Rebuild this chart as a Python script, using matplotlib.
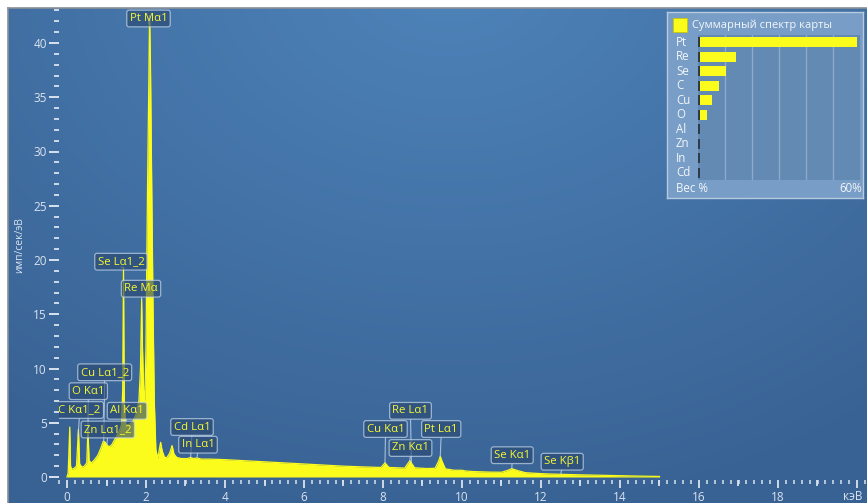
import numpy as np
import matplotlib
matplotlib.use('Agg')
import matplotlib.pyplot as plt
from matplotlib.patches import Rectangle
from matplotlib.ticker import MultipleLocator, FuncFormatter
from matplotlib.transforms import blended_transform_factory

plt.rcParams['font.family'] = ['Open Sans', 'DejaVu Sans']

# спектр: энергия (кэВ) и интенсивность (имп/сек/эВ)
spec_kev = [0.00, 0.03, 0.05, 0.07, 0.09, 0.12, 0.18, 0.24, 0.27, 0.29, 0.32, 0.38, 0.44,
            0.50, 0.53, 0.56, 0.62, 0.70, 0.78, 0.85, 0.92, 0.97, 1.02, 1.08, 1.14, 1.20,
            1.26, 1.32, 1.38, 1.41, 1.43, 1.45, 1.48, 1.53, 1.60, 1.68, 1.75, 1.82, 1.86,
            1.89, 1.91, 1.94, 1.97, 2.00, 2.02, 2.04, 2.07, 2.09, 2.11, 2.13, 2.15, 2.18,
            2.21, 2.25, 2.30, 2.34, 2.37, 2.41, 2.47, 2.53, 2.60, 2.66, 2.71, 2.78, 2.90,
            3.05, 3.13, 3.20, 3.29, 3.40, 3.60, 4.0, 4.5, 5.0, 5.5, 6.0, 6.5, 7.0, 7.5,
            7.95, 8.05, 8.15, 8.55, 8.68, 8.80, 9.1, 9.32, 9.40, 9.45, 9.50, 9.58, 9.8,
            10.0, 10.1, 10.3, 10.7, 11.0, 11.15, 11.26, 11.40, 11.6, 11.9, 12.2, 12.5,
            13.0, 13.5, 14.0, 14.5, 15.0]
spec_cps = [0.0, 0.4, 2.5, 4.6, 1.0, 0.7, 0.8, 1.0, 3.0, 4.4, 1.2, 0.9, 1.0,
            1.3, 4.4, 1.5, 1.3, 1.6, 2.0, 2.6, 3.3, 3.2, 2.9, 2.8, 3.0, 3.4,
            3.8, 4.2, 4.8, 8.0, 19.3, 7.0, 4.9, 4.8, 4.9, 5.2, 5.8, 7.0, 10.0,
            16.4, 12.0, 8.0, 7.0, 12.0, 20.0, 27.0, 36.0, 42.5, 39.0, 32.0, 25.0, 15.0,
            7.0, 2.5, 1.7, 2.6, 3.2, 2.4, 1.8, 1.8, 2.2, 2.9, 2.1, 1.8, 1.7,
            1.7, 1.8, 1.7, 1.75, 1.65, 1.65, 1.6, 1.5, 1.4, 1.3, 1.2, 1.1, 1.0, 0.93,
            0.88, 1.3, 0.88, 0.82, 1.5, 0.85, 0.78, 0.8, 1.4, 1.9, 1.4, 0.75, 0.62,
            0.62, 0.55, 0.5, 0.45, 0.44, 0.6, 0.77, 0.6, 0.4, 0.33, 0.28, 0.25,
            0.2, 0.16, 0.12, 0.08, 0.05]

# подписи пиков
peak_names = ['Pt Mα1', 'Se Lα1_2', 'Re Mα', 'Cu Lα1_2', 'O Kα1', 'C Kα1_2', 'Al Kα1',
              'Zn Lα1_2', 'Cd Lα1', 'In Lα1', 'Cu Kα1', 'Re Lα1', 'Zn Kα1', 'Pt Lα1',
              'Se Kα1', 'Se Kβ1']
peak_kev = [2.09, 1.43, 1.89, 0.93, 0.53, 0.28, 1.49, 1.01, 3.13, 3.29, 8.05, 8.72,
            8.68, 9.45, 11.26, 12.50]

# суммарный спектр карты, вес %
elements = ['Pt', 'Re', 'Se', 'C', 'Cu', 'O', 'Al', 'Zn', 'In', 'Cd']
weights = [58.9, 13.9, 10.5, 7.8, 5.2, 3.5, 0.4, 0.4, 0.3, 0.3]

# положения плашек с подписями (пиксели картинки, центр)
label_px = [(148.5, 18.5), (121, 261.7), (141, 288.7), (104.7, 372.3), (88.3, 391.2),
            (79.5, 410), (127, 410.8), (107.8, 429.5), (192, 427), (198, 444.7),
            (385.5, 429), (410.5, 410.8), (410.5, 448), (441.2, 429), (512.2, 455.2),
            (562.2, 461.7)]

W, H = 867, 503
YEL = '#fbfb1c'
TICK = '#d9e3ee'


def fx(px):
    return px / W


def fy(py):
    return 1 - py / H


fig = plt.figure(figsize=(W / 100, H / 100), dpi=100, facecolor='white')

# фон с радиальным градиентом
bg = fig.add_axes([fx(8), 0, 1 - fx(8), fy(8)])
yy, xx = np.mgrid[0:495:3, 0:859:3]
d = np.hypot(xx - 440, (yy + 40) * 1.3)
t = np.clip(d / 720, 0, 1)[..., None]
c_in = np.array([78, 132, 186]) / 255
c_out = np.array([57, 98, 148]) / 255
bg.imshow(c_in + (c_out - c_in) * t, aspect='auto', extent=(0, 1, 0, 1),
          interpolation='bilinear')
bg.set_xlim(0, 1)
bg.set_ylim(0, 1)
bg.set_xticks([])
bg.set_yticks([])
for side, s in bg.spines.items():
    if side in ('left', 'top'):
        s.set_color('#8a9098')
        s.set_linewidth(1.2)
    else:
        s.set_visible(False)

# основной график
ax = fig.add_axes([fx(59), fy(480), fx(867) - fx(59), fy(8) - fy(480)])
ax.set_facecolor('none')
for s in ax.spines.values():
    s.set_visible(False)
ax.set_xlim((59 - 67) / 39.5, (867 - 67) / 39.5)
ax.set_ylim((477 - 480) / 10.85, (477 - 8) / 10.85)

ax.fill_between(spec_kev, spec_cps, 0, color=YEL, lw=0, zorder=2)
ax.plot(spec_kev, spec_cps, color=YEL, lw=0.9, zorder=2)

ax.xaxis.set_major_locator(MultipleLocator(2))
ax.xaxis.set_minor_locator(MultipleLocator(0.2))
ax.xaxis.set_major_formatter(FuncFormatter(lambda v, p: '' if v > 19 else f'{v:.0f}'))
ax.yaxis.set_major_locator(MultipleLocator(5))
ax.yaxis.set_minor_locator(MultipleLocator(1))
ax.tick_params(axis='x', which='major', direction='out', length=5.8, width=1.3,
               colors=TICK, labelsize=8.5, pad=2)
ax.tick_params(axis='x', which='minor', direction='out', length=2.9, width=1.1, color=TICK)
ax.tick_params(axis='y', which='major', direction='out', length=7.2, width=1.4,
               colors=TICK, labelsize=8.5, pad=1.5)
ax.tick_params(axis='y', which='minor', direction='out', length=3.6, width=1.3, color=TICK)

sec = ax.secondary_xaxis('bottom')
sec.set_xticks(np.arange(1, 20, 2))
sec.tick_params(length=4.3, width=1.3, color=TICK, labelbottom=False)
for s in sec.spines.values():
    s.set_visible(False)

fig.text(fx(862), fy(496), 'кэВ', ha='right', va='center', color=TICK, fontsize=8.5)
fig.text(fx(20), fy(245), 'имп/сек/эВ', rotation=90, ha='center', va='center',
         color=TICK, fontsize=7.5)

# плашки пиков
for name, e, (px, py) in zip(peak_names, peak_kev, label_px):
    yv = np.interp(e, spec_kev, spec_cps)
    an = ax.annotate(name, xy=(e, yv), xytext=(px, H - py), textcoords='figure pixels',
                     ha='center', va='center', color='#f8f832', fontsize=8.2, zorder=5,
                     bbox=dict(boxstyle='round,pad=0.25,rounding_size=0.2',
                               fc=(0.16, 0.28, 0.44, 0.62), ec=(0.78, 0.85, 0.92, 0.7),
                               lw=0.9),
                     arrowprops=dict(arrowstyle='-', color=(0.80, 0.86, 0.93, 0.75), lw=0.8,
                                     shrinkA=0, shrinkB=0, relpos=(0.5, 0)))
    an.set_clip_on(True)
    an.set_clip_box(ax.bbox)
    patch = an.get_bbox_patch()
    patch.set_clip_on(True)
    patch.set_clip_box(ax.bbox)

# вставка: суммарный спектр карты
frame = fig.add_axes([fx(667), fy(198), fx(863) - fx(667), fy(12) - fy(198)])
frame.set_facecolor((0.47, 0.62, 0.78))
frame.set_xticks([])
frame.set_yticks([])
for s in frame.spines.values():
    s.set_color('#b7cadf')
    s.set_linewidth(1)

inner = fig.add_axes([fx(698), fy(180), fx(860) - fx(698), fy(35) - fy(180)])
inner.set_facecolor((0.39, 0.54, 0.70))
inner.set_xlim(0, 60)
inner.set_ylim(9.5, -0.5)
for v in range(10, 60, 10):
    inner.axvline(v, color=(0.55, 0.67, 0.80), lw=1, zorder=0)
rows = range(len(elements))
inner.barh(rows, weights, height=0.68, color=YEL, lw=0, zorder=2)
inner.barh(rows, [0.6] * len(elements), height=0.68, color='#2f3b48', lw=0, zorder=3)
inner.set_xticks([])
inner.set_yticks([])
for s in inner.spines.values():
    s.set_visible(False)
tr = blended_transform_factory(inner.transAxes, inner.transData)
for i, el in enumerate(elements):
    inner.text(-22 / 162, i, el, transform=tr, ha='left', va='center',
               color='#f3f6f9', fontsize=8.3)

fig.add_artist(Rectangle((fx(673), fy(32)), 14 / W, 14 / H, transform=fig.transFigure,
                         fc=YEL, ec='#c8c800', lw=0.6))
fig.text(fx(692), fy(25.5), 'Суммарный спектр карты', ha='left', va='center',
         color='#f3f6f9', fontsize=8)
fig.text(fx(676), fy(188), 'Вес %', ha='left', va='center', color='#f3f6f9', fontsize=8.3)
fig.text(fx(862), fy(188), '60%', ha='right', va='center', color='#f3f6f9', fontsize=8.3)

fig.savefig('out.png', dpi=100)
